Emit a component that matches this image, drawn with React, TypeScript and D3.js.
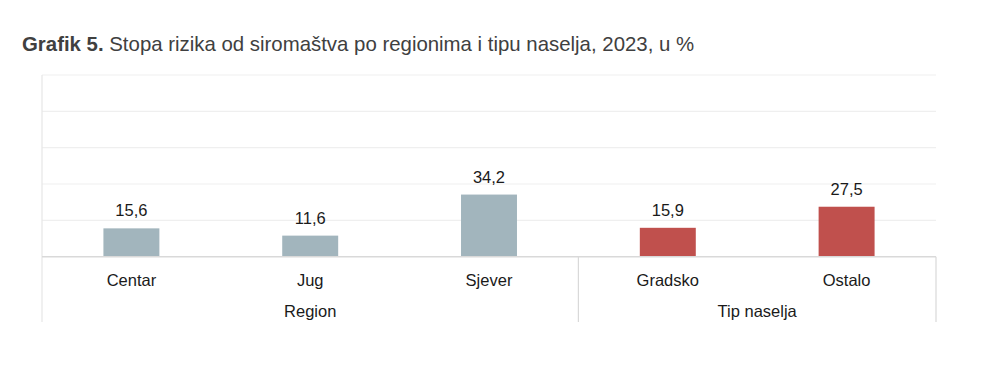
import { useEffect, useRef } from 'react';
import * as d3 from 'd3';

const categories = ['Centar', 'Jug', 'Sjever', 'Gradsko', 'Ostalo'];
const values = [15.6, 11.6, 34.2, 15.9, 27.5];
const groups = ['Region', 'Region', 'Region', 'Tip naselja', 'Tip naselja'];
const groupNames = ['Region', 'Tip naselja'];
const yTicks = [0, 20, 40, 60, 80, 100];

const colors: Record<string, string> = { Region: '#a2b5bd', 'Tip naselja': '#c0504d' };

const App = () => {
  const svgRef = useRef<SVGSVGElement>(null);

  useEffect(() => {
    const width = 1000;
    const height = 372;
    const left = 42, right = 936, top = 75, base = 256.7, bottom = 322;

    const svg = d3.select(svgRef.current);
    svg.selectAll('*').remove();
    svg.attr('width', width).attr('height', height);

    const font = 'Arial, "Liberation Sans", sans-serif';

    const x = d3.scaleBand().domain(categories).range([left, right]).padding(0);
    const y = d3.scaleLinear().domain([0, 100]).range([base, top]);
    const barW = x.bandwidth() * 0.313;

    // title
    const title = svg.append('text')
      .attr('x', 22).attr('y', 51)
      .attr('font-family', font).attr('font-size', 20.4).attr('fill', '#404040');
    title.append('tspan').attr('font-weight', 'bold').text('Grafik 5.');
    title.append('tspan').text(' Stopa rizika od siromaštva po regionima i tipu naselja, 2023, u %');

    // gridlines
    svg.append('g')
      .selectAll('line')
      .data(yTicks.filter(d => d > 0))
      .join('line')
      .attr('x1', left).attr('x2', right)
      .attr('y1', d => y(d)).attr('y2', d => y(d))
      .attr('stroke', '#efefef').attr('stroke-width', 1.2);

    // left axis line
    svg.append('line')
      .attr('x1', left).attr('x2', left).attr('y1', top).attr('y2', bottom)
      .attr('stroke', '#e6e6e6').attr('stroke-width', 1.2);

    // bars
    svg.append('g')
      .selectAll('rect')
      .data(values)
      .join('rect')
      .attr('x', (d, i) => (x(categories[i]) as number) + (x.bandwidth() - barW) / 2)
      .attr('y', d => y(d))
      .attr('width', barW)
      .attr('height', d => y(0) - y(d))
      .attr('fill', (d, i) => colors[groups[i]]);

    // value labels
    svg.append('g')
      .selectAll('text')
      .data(values)
      .join('text')
      .attr('x', (d, i) => (x(categories[i]) as number) + x.bandwidth() / 2)
      .attr('y', d => y(d) - 12)
      .attr('text-anchor', 'middle')
      .attr('font-family', font).attr('font-size', 16.5).attr('fill', '#1a1a1a')
      .text(d => d3.format('.1f')(d).replace('.', ','));

    // baseline
    svg.append('line')
      .attr('x1', left).attr('x2', right).attr('y1', base).attr('y2', base)
      .attr('stroke', '#d9d9d9').attr('stroke-width', 1.5);

    // category labels
    svg.append('g')
      .selectAll('text')
      .data(categories)
      .join('text')
      .attr('x', d => (x(d) as number) + x.bandwidth() / 2)
      .attr('y', 286)
      .attr('text-anchor', 'middle')
      .attr('font-family', font).attr('font-size', 16.5).attr('fill', '#1a1a1a')
      .text(d => d);

    // group labels and separators
    groupNames.forEach(g => {
      const members = categories.filter((c, i) => groups[i] === g);
      const x0 = x(members[0]) as number;
      const x1 = (x(members[members.length - 1]) as number) + x.bandwidth();
      svg.append('text')
        .attr('x', (x0 + x1) / 2).attr('y', 317)
        .attr('text-anchor', 'middle')
        .attr('font-family', font).attr('font-size', 16.5).attr('fill', '#1a1a1a')
        .text(g);
      svg.append('line')
        .attr('x1', x1).attr('x2', x1).attr('y1', base).attr('y2', bottom)
        .attr('stroke', '#d9d9d9').attr('stroke-width', 1.2);
    });
  }, []);

  return <svg ref={svgRef} style={{ position: 'absolute', left: 0, top: 0 }}></svg>;
};

export default App;
